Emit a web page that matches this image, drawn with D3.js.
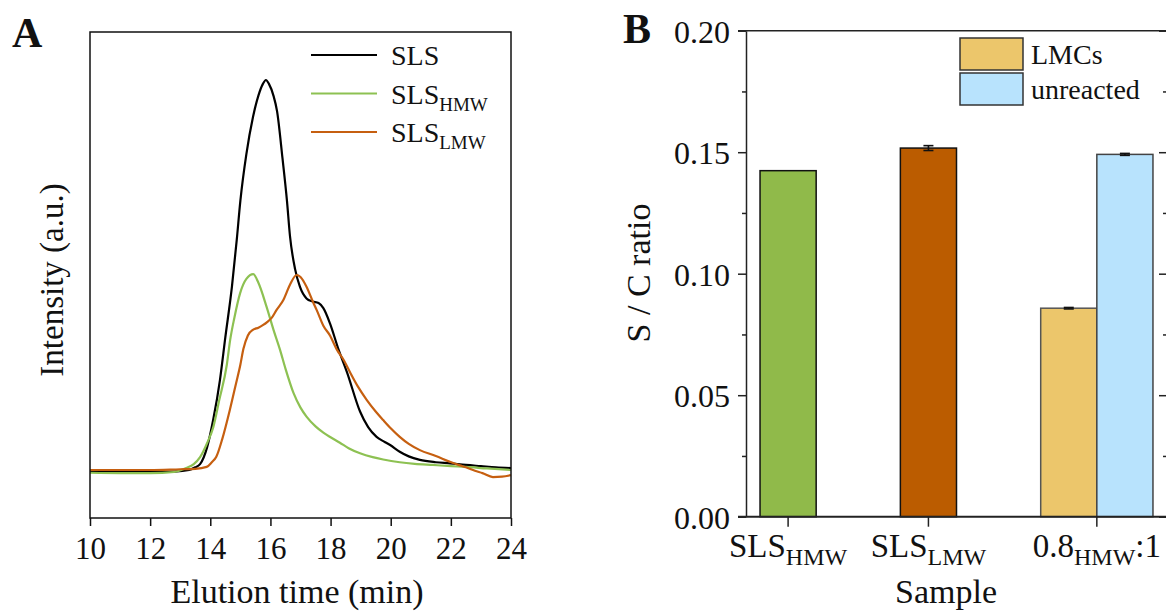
<!DOCTYPE html>
<html>
<head>
<meta charset="utf-8">
<script src="https://cdn.jsdelivr.net/npm/d3@7"></script>
<style>
  body { margin: 0; background: #fff; }
  svg { display: block; font-family: 'Liberation Serif', 'Times New Roman', serif; }
</style>
</head>
<body>
<div id="chart"></div>
<script>
// panel A: elution curves (time in min, intensity in a.u.)
var slsTime = [10, 11, 12, 12.8, 13.3, 13.5, 13.66, 13.9, 14.1, 14.32, 14.5, 14.72, 14.88, 15.0, 15.2, 15.42, 15.6, 15.75, 15.85, 15.95, 16.1, 16.22, 16.4, 16.55, 16.65, 16.82, 16.98, 17.2, 17.4, 17.6, 17.76, 17.98, 18.26, 18.55, 18.98, 19.25, 19.53, 19.8, 19.98, 20.3, 20.6, 20.97, 21.5, 21.97, 22.5, 23, 23.5, 24]
var slsValue = [-0.004, -0.005, -0.005, -0.004, 0.0, 0.007, 0.015, 0.06, 0.13, 0.23, 0.34, 0.47, 0.59, 0.69, 0.81, 0.905, 0.96, 0.99, 1.0, 0.99, 0.96, 0.92, 0.8, 0.69, 0.6, 0.515, 0.47, 0.44, 0.432, 0.428, 0.415, 0.376, 0.31, 0.25, 0.15, 0.11, 0.085, 0.072, 0.064, 0.047, 0.035, 0.026, 0.02, 0.017, 0.013, 0.01, 0.007, 0.005]

var hmwTime = [10, 11, 12, 12.8, 13.2, 13.45, 13.66, 13.9, 14.1, 14.3, 14.55, 14.66, 14.8, 14.99, 15.2, 15.43, 15.6, 15.87, 16.1, 16.32, 16.5, 16.77, 17.0, 17.2, 17.5, 17.76, 18.0, 18.31, 18.6, 18.98, 19.4, 19.75, 20.3, 20.8, 21.4, 22.0, 22.5, 23.2, 24]
var hmwValue = [-0.007, -0.008, -0.008, -0.005, 0.005, 0.015, 0.033, 0.07, 0.11, 0.18, 0.27, 0.333, 0.39, 0.453, 0.49, 0.502, 0.48, 0.419, 0.36, 0.308, 0.26, 0.197, 0.16, 0.137, 0.112, 0.096, 0.084, 0.07, 0.056, 0.043, 0.033, 0.027, 0.02, 0.016, 0.013, 0.01, 0.008, 0.004, 0.0]

var lmwTime = [10, 11, 12, 13, 13.5, 13.88, 14.05, 14.2, 14.4, 14.65, 14.85, 15.0, 15.1, 15.25, 15.43, 15.6, 15.76, 15.9, 16.04, 16.2, 16.43, 16.65, 16.87, 17.0, 17.2, 17.42, 17.54, 17.76, 17.98, 18.2, 18.45, 18.65, 18.9, 19.2, 19.5, 19.75, 20.0, 20.3, 20.6, 20.97, 21.5, 21.97, 22.3, 22.5, 22.8, 23.05, 23.4, 23.7, 24]
var lmwValue = [0.0, 0.0, 0.0, 0.002, 0.003, 0.008, 0.02, 0.034, 0.08, 0.154, 0.22, 0.27, 0.31, 0.345, 0.36, 0.365, 0.372, 0.38, 0.39, 0.41, 0.436, 0.475, 0.5, 0.495, 0.47, 0.43, 0.41, 0.37, 0.345, 0.31, 0.28, 0.25, 0.215, 0.18, 0.15, 0.128, 0.107, 0.085, 0.067, 0.051, 0.036, 0.021, 0.012, 0.007, -0.002, -0.008, -0.018, -0.017, -0.013]

var curveNames = [['SLS', ''], ['SLS', 'HMW'], ['SLS', 'LMW']]
var timeTicks = [10, 12, 14, 16, 18, 20, 22, 24]

// panel B: S / C ratio per sample
var sampleLabels = [['SLS', 'HMW', ''], ['SLS', 'LMW', ''], ['0.8', 'HMW', ':1']]
var barSample = [0, 1, 2, 2]
var barValues = [0.1424, 0.1517, 0.0858, 0.1491]
var barErrors = [0, 0.001, 0.0003, 0.0004]
var legendNames = ['LMCs', 'unreacted']
var ratioTicks = [0, 0.05, 0.1, 0.15, 0.2]

var lineColors = ['#000000', '#8dc152', '#c65f10']
var barFills = ['#90ba4a', '#bb5c00', '#ecc66b', '#b8e3fd']
var barStrokes = ['#111', '#111', '#555', '#444']

var svg = d3
  .select('#chart')
  .append('svg')
  .attr('width', 1166)
  .attr('height', 611)

// ---------- panel A ----------
var xA = d3.scaleLinear().domain([10, 24]).range([90, 511])
var yA = d3.scaleLinear().domain([-0.123, 1.123]).range([518, 32])

var gA = svg.append('g')

var series = [
  slsTime.map((t, i) => [t, slsValue[i]]),
  hmwTime.map((t, i) => [t, hmwValue[i]]),
  lmwTime.map((t, i) => [t, lmwValue[i]])
]

var line = d3
  .line()
  .x(d => xA(d[0]))
  .y(d => yA(d[1]))
  .curve(d3.curveMonotoneX)

gA.selectAll('.curve')
  .data([0, 1, 2])
  .enter()
  .append('path')
  .attr('class', 'curve')
  .attr('d', i => line(series[i]))
  .attr('fill', 'none')
  .attr('stroke', i => lineColors[i])
  .attr('stroke-width', 2.2)

gA.append('rect')
  .attr('x', xA(10))
  .attr('y', yA.range()[1])
  .attr('width', xA(24) - xA(10))
  .attr('height', yA.range()[0] - yA.range()[1])
  .attr('fill', 'none')
  .attr('stroke', '#111')
  .attr('stroke-width', 1.5)

var xAxisA = gA
  .append('g')
  .attr('transform', 'translate(0,' + yA.range()[0] + ')')
  .call(d3.axisBottom(xA).tickValues(timeTicks).tickSize(8).tickPadding(11).tickSizeOuter(0))
xAxisA.select('.domain').remove()
xAxisA.selectAll('line').attr('stroke', '#111').attr('stroke-width', 1.5)
xAxisA.selectAll('text')
  .attr('font-family', 'Liberation Serif')
  .attr('font-size', 31)
  .attr('fill', '#111')

gA.append('text')
  .attr('x', 297)
  .attr('y', 603)
  .attr('text-anchor', 'middle')
  .attr('font-size', 34)
  .attr('fill', '#111')
  .text('Elution time (min)')

gA.append('text')
  .attr('transform', 'translate(63,280) rotate(-90)')
  .attr('text-anchor', 'middle')
  .attr('font-size', 33)
  .attr('fill', '#111')
  .text('Intensity (a.u.)')

// legend A
var legA = gA
  .selectAll('.legA')
  .data(curveNames)
  .enter()
  .append('g')
  .attr('class', 'legA')
  .attr('transform', (d, i) => 'translate(0,' + (55 + i * 38.5) + ')')

legA.append('line')
  .attr('x1', 311)
  .attr('x2', 377)
  .attr('stroke', (d, i) => lineColors[i])
  .attr('stroke-width', 2.2)

var legAText = legA
  .append('text')
  .attr('x', 391)
  .attr('y', 10)
  .attr('font-size', 28)
  .attr('fill', '#111')
legAText.append('tspan').text(d => d[0])
legAText.append('tspan')
  .attr('dy', 7)
  .attr('font-size', 19)
  .text(d => d[1])

gA.append('text')
  .attr('x', 12)
  .attr('y', 47)
  .attr('font-size', 42)
  .attr('font-weight', 'bold')
  .attr('fill', '#111')
  .text('A')

// ---------- panel B ----------
// bars of one sample sit side by side, samples are 1.5 bar widths apart
var slotStart = []
var cursor = 0
sampleLabels.forEach(function(s, k) {
  var n = barSample.filter(b => b === k).length
  slotStart.push({ start: cursor, n: n })
  cursor += n + 1.5
})
var barSlot = barSample.map(function(k, i) {
  var before = barSample.slice(0, i).filter(b => b === k).length
  return slotStart[k].start + before
})

var xB = d3.scaleLinear().domain([-0.25, 7.25]).range([746, 1167])
var yB = d3.scaleLinear().domain([0, 0.2]).range([516.7, 30.7])
var bw = xB(1) - xB(0)

var gB = svg.append('g')

gB.selectAll('.bar')
  .data(barValues)
  .enter()
  .append('rect')
  .attr('class', 'bar')
  .attr('x', (d, i) => xB(barSlot[i]))
  .attr('width', bw)
  .attr('y', d => yB(d))
  .attr('height', d => yB(0) - yB(d))
  .attr('fill', (d, i) => barFills[i])
  .attr('stroke', (d, i) => barStrokes[i])
  .attr('stroke-width', 1.5)

// error bars
var errG = gB
  .selectAll('.err')
  .data(barValues.map((v, i) => i).filter(i => barErrors[i] > 0))
  .enter()
  .append('g')
  .attr('class', 'err')
  .attr('stroke', '#111')
  .attr('stroke-width', 1.6)
errG.append('line')
  .attr('x1', i => xB(barSlot[i] + 0.5))
  .attr('x2', i => xB(barSlot[i] + 0.5))
  .attr('y1', i => yB(barValues[i] - barErrors[i]))
  .attr('y2', i => yB(barValues[i] + barErrors[i]))
errG.append('line')
  .attr('x1', i => xB(barSlot[i] + 0.5) - 5)
  .attr('x2', i => xB(barSlot[i] + 0.5) + 5)
  .attr('y1', i => yB(barValues[i] + barErrors[i]))
  .attr('y2', i => yB(barValues[i] + barErrors[i]))
errG.append('line')
  .attr('x1', i => xB(barSlot[i] + 0.5) - 5)
  .attr('x2', i => xB(barSlot[i] + 0.5) + 5)
  .attr('y1', i => yB(barValues[i] - barErrors[i]))
  .attr('y2', i => yB(barValues[i] - barErrors[i]))

// left axis
var yAxisB = gB
  .append('g')
  .attr('transform', 'translate(' + xB(-0.25) + ',0)')
  .call(d3.axisLeft(yB).tickValues(ratioTicks).tickFormat(d3.format('.2f')).tickSize(8).tickPadding(8).tickSizeOuter(0))
yAxisB.select('.domain').attr('stroke', '#222').attr('stroke-width', 1.5)
yAxisB.selectAll('line').attr('stroke', '#222').attr('stroke-width', 1.5)
yAxisB.selectAll('text')
  .attr('font-family', 'Liberation Serif')
  .attr('font-size', 32)
  .attr('fill', '#111')
  .attr('dy', '0.36em')

var minorTicks = d3.range(0.025, 0.2, 0.05)
var minorB = gB
  .append('g')
  .attr('transform', 'translate(' + xB(-0.25) + ',0)')
  .call(d3.axisLeft(yB).tickValues(minorTicks).tickSize(4).tickFormat(''))
minorB.select('.domain').remove()
minorB.selectAll('line').attr('stroke', '#222').attr('stroke-width', 1.5)

// right axis, ticks pointing in
var rightB = gB
  .append('g')
  .attr('transform', 'translate(' + xB(7.25) + ',0)')
  .call(d3.axisLeft(yB).tickValues(ratioTicks).tickSize(8).tickFormat('').tickSizeOuter(0))
rightB.selectAll('line').attr('stroke', '#222').attr('stroke-width', 1.5)
rightB.select('.domain').attr('stroke', '#222').attr('stroke-width', 1.5)
var rightMinor = gB
  .append('g')
  .attr('transform', 'translate(' + xB(7.25) + ',0)')
  .call(d3.axisLeft(yB).tickValues(minorTicks).tickSize(4).tickFormat(''))
rightMinor.select('.domain').remove()
rightMinor.selectAll('line').attr('stroke', '#222').attr('stroke-width', 1.5)

// top and bottom frame lines
gB.append('line')
  .attr('x1', xB(-0.25) - 8)
  .attr('x2', xB(7.25))
  .attr('y1', yB(0.2))
  .attr('y2', yB(0.2))
  .attr('stroke', '#222')
  .attr('stroke-width', 1.5)
gB.append('line')
  .attr('x1', xB(-0.25) - 8)
  .attr('x2', xB(7.25))
  .attr('y1', yB(0))
  .attr('y2', yB(0))
  .attr('stroke', '#222')
  .attr('stroke-width', 2)

// category ticks and labels
var catCenters = slotStart.map(s => s.start + s.n / 2)
gB.selectAll('.ctick')
  .data(catCenters)
  .enter()
  .append('line')
  .attr('class', 'ctick')
  .attr('x1', d => xB(d))
  .attr('x2', d => xB(d))
  .attr('y1', yB(0))
  .attr('y2', yB(0) + 10)
  .attr('stroke', '#222')
  .attr('stroke-width', 1.5)

var catText = gB
  .selectAll('.clabel')
  .data(sampleLabels)
  .enter()
  .append('text')
  .attr('class', 'clabel')
  .attr('x', (d, i) => xB(catCenters[i]))
  .attr('y', 557)
  .attr('text-anchor', 'middle')
  .attr('font-size', 33)
  .attr('fill', '#111')
catText.append('tspan').text(d => d[0])
catText.append('tspan')
  .attr('dy', 8)
  .attr('font-size', 24)
  .text(d => d[1])
catText.append('tspan')
  .attr('dy', -8)
  .text(d => d[2])

gB.append('text')
  .attr('x', 946)
  .attr('y', 603)
  .attr('text-anchor', 'middle')
  .attr('font-size', 34)
  .attr('fill', '#111')
  .text('Sample')

gB.append('text')
  .attr('transform', 'translate(650,273) rotate(-90)')
  .attr('text-anchor', 'middle')
  .attr('font-size', 34)
  .attr('fill', '#111')
  .text('S / C ratio')

// legend B
var legB = gB
  .selectAll('.legB')
  .data(legendNames)
  .enter()
  .append('g')
  .attr('class', 'legB')
  .attr('transform', (d, i) => 'translate(960,' + (38 + i * 35) + ')')
legB.append('rect')
  .attr('width', 63)
  .attr('height', 32)
  .attr('fill', (d, i) => barFills[i + 2])
  .attr('stroke', '#333')
  .attr('stroke-width', 1.5)
legB.append('text')
  .attr('x', 71)
  .attr('y', 26)
  .attr('font-size', 28)
  .attr('fill', '#111')
  .text(d => d)

gB.append('text')
  .attr('x', 623)
  .attr('y', 43)
  .attr('font-size', 42)
  .attr('font-weight', 'bold')
  .attr('fill', '#111')
  .text('B')
</script>
</body>
</html>
